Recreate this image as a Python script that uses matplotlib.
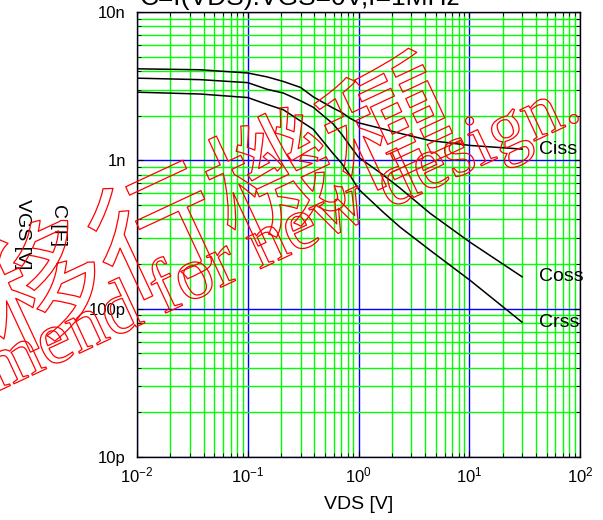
import numpy as np
import matplotlib
matplotlib.use("Agg")
import matplotlib.pyplot as plt
import matplotlib.patheffects as pe
from matplotlib.ticker import LogLocator, FixedLocator, FixedFormatter

plt.rcParams['font.family'] = ['Liberation Sans', 'DejaVu Sans']
plt.rcParams['mathtext.fontset'] = 'custom'
plt.rcParams['mathtext.rm'] = 'Liberation Sans'

# values
vds = [0.01, 0.037, 0.1, 0.15, 0.21, 0.3, 0.39, 0.59, 0.7, 0.84, 1.0, 1.66, 2.37,
       4.42, 10.2, 30]
ciss = [4.14e-9, 4.08e-9, 3.88e-9, 3.65e-9, 3.40e-9, 3.10e-9, 2.68e-9, 2.25e-9,
        2.11e-9, 1.92e-9, 1.79e-9, 1.63e-9, 1.52e-9, 1.36e-9, 1.26e-9, 1.19e-9]
coss = [3.58e-9, 3.50e-9, 3.34e-9, 3.01e-9, 2.84e-9, 2.52e-9, 2.28e-9, 1.76e-9,
        1.51e-9, 1.25e-9, 1.05e-9, 0.80e-9, 0.65e-9, 0.44e-9, 0.28e-9, 0.164e-9]
crss = [2.88e-9, 2.80e-9, 2.65e-9, 2.38e-9, 2.19e-9, 1.84e-9, 1.62e-9, 1.11e-9,
        0.96e-9, 0.79e-9, 0.64e-9, 0.449e-9, 0.355e-9, 0.248e-9, 0.155e-9, 0.081e-9]
series = [('Ciss', ciss), ('Coss', coss), ('Crss', crss)]

y_ticks = [1e-11, 1e-10, 1e-9, 1e-8]
y_labels = ['10p', '100p', '1n', '10n']

W, H = 603, 520
fig = plt.figure(figsize=(W / 100, H / 100), dpi=100)
ax = fig.add_axes([137 / W, 1 - 457 / H, 443 / W, 445 / H])
ax.set_xscale('log')
ax.set_yscale('log')
ax.set_xlim(1e-2, 1e2)
ax.set_ylim(1e-11, 1e-8)

# grid: green minor, blue major
ax.xaxis.set_minor_locator(LogLocator(base=10, subs=np.arange(2, 10)))
ax.yaxis.set_minor_locator(LogLocator(base=10, subs=np.arange(2, 10)))
ax.grid(which='minor', color='#00ff00', lw=1.0, zorder=0)
ax.grid(which='major', color='#0000ff', lw=1.0, zorder=0)
ax.set_axisbelow(True)

ax.yaxis.set_major_locator(FixedLocator(y_ticks))
ax.yaxis.set_major_formatter(FixedFormatter(y_labels))
ax.yaxis.set_minor_formatter(FixedFormatter([]))
ax.tick_params(which='both', direction='in', top=True, right=True,
               colors='black', labelsize=12)
ax.tick_params(which='major', length=4)
ax.tick_params(which='minor', length=3)
ax.tick_params(axis='y', pad=8)
ax.tick_params(axis='x', pad=6)
for s in ax.spines.values():
    s.set_linewidth(1.0)

for name, vals in series:
    ax.plot(vds, vals, color='black', lw=1.1)
    ax.annotate(name, xy=(vds[-1], vals[-1]), xytext=(12, 0),
                textcoords='offset points', va='center', ha='left', fontsize=14)

ax.set_xlabel('VDS [V]', fontsize=14, labelpad=8)

fig.text(22 / W, 1 - 234 / H, 'VGS [V]', rotation=270, ha='center', va='center', fontsize=14)
fig.text(58 / W, 1 - 225 / H, 'C [F]', rotation=270, ha='center', va='center', fontsize=14)
fig.text(300 / W, 1 - 5 / H, 'C=f(VDS):VGS=0V,f=1MHz', ha='center', va='baseline', fontsize=19)

# red outlined watermark
outline = [pe.Stroke(linewidth=0.9, foreground='red')]
fig.text(218 / W, 1 - 214 / H, '移行機種', rotation=25, ha='center', va='center',
         fontsize=92, color='none', family=['Noto Sans CJK JP'],
         path_effects=outline, zorder=10, rotation_mode='anchor')
fig.text(584 / W, 1 - 118 / H, 'Not recommend for new design.', rotation=25,
         ha='right', va='baseline', fontsize=54, color='none',
         family=['Liberation Serif'], path_effects=outline, zorder=10,
         rotation_mode='anchor')

fig.savefig('out.png', dpi=100)
